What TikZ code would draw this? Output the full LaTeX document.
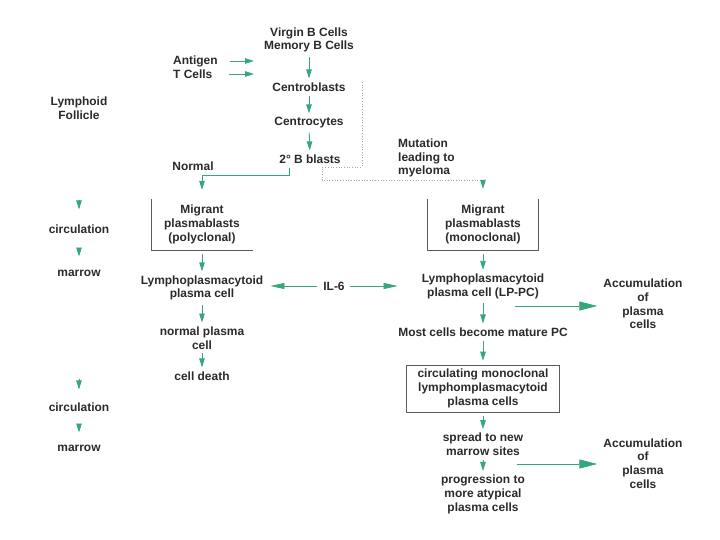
\documentclass[tikz,border=0pt]{standalone}
\usepackage{fontspec}
\setmainfont{Liberation Sans}
\usetikzlibrary{arrows.meta}
\definecolor{mmgreen}{HTML}{35A77A}
\definecolor{mmtext}{HTML}{2A2A2A}
\definecolor{mmgray}{HTML}{5A5A5A}
\definecolor{mmdot}{HTML}{A8A8A8}

\begin{document}
\begin{tikzpicture}[x=1bp,y=-1bp,
 lbl/.style={text=mmtext,font=\fontsize{12}{13.8}\selectfont\bfseries,align=center,inner sep=0pt},
 arr/.style={-{Triangle[length=9bp,width=5.5bp]},draw=mmgreen,line width=0.8bp,
   shorten <=4bp,shorten >=4bp},
 longarr/.style={arr,-{Triangle[length=14bp,width=6bp]}},
 bigarr/.style={arr,-{Triangle[length=18bp,width=9bp]}},
 frame/.style={draw=mmgray,line width=0.7bp},
 dotline/.style={draw=mmdot,dotted,line width=0.7bp}]
\fill[white] (0,0) rectangle (720,540);
\useasboundingbox (0,0) rectangle (720,540);
\node[lbl] (virg) at (309,40) {Virgin B Cells\\Memory B Cells};
\node[lbl,anchor=west] (ag) at (173,61) {Antigen};
\node[lbl,anchor=west] (tc) at (173,74) {T Cells};
\coordinate (agend) at (254,61);
\coordinate (tcend) at (254,74);
\node[lbl] (cb) at (309,87) {Centroblasts};
\node[lbl] (cc) at (309,123) {Centrocytes};
\node[lbl] (bb) at (310,159) {2° B blasts};
\node[lbl] (lf) at (79,108) {Lymphoid\\Follicle};
\node[lbl] (nrm) at (193,166) {Normal};
\node[lbl,anchor=west,align=left] (mut) at (398,158) {Mutation\\leading to\\myeloma};
\node[lbl,minimum width=101bp,minimum height=51bp] (poly) at (202,224.5) {Migrant\\plasmablasts\\(polyclonal)};
\node[lbl,minimum width=110bp,minimum height=51bp] (mono) at (483,224.5) {Migrant\\plasmablasts\\(monoclonal)};
\draw[frame] (poly.north west) -- (poly.south west) -- (poly.south east);
\draw[frame] (mono.north west) -- (mono.south west) -- (mono.south east) -- (mono.north east);
\node[lbl] (ci1) at (79,229) {circulation};
\node[lbl] (mw1) at (79,273) {marrow};
\node[lbl] (ci2) at (79,407) {circulation};
\node[lbl] (mw2) at (79,448) {marrow};
\coordinate (ci1top) at (79,200);
\coordinate (ci2top) at (79,379);
\node[lbl] (lp) at (202,288) {Lymphoplasmacytoid\\plasma cell};
\node[lbl] (npc) at (202,338) {normal plasma\\cell};
\node[lbl] (cd) at (202,376) {cell death};
\node[lbl] (il) at (334,286) {IL-6};
\node[lbl] (lppc) at (483,286.5) {Lymphoplasmacytoid\\plasma cell (LP-PC)};
\node[lbl] (most) at (483,332) {Most cells become mature PC};
\node[lbl,draw=mmgray,line width=0.7bp,minimum width=153bp,minimum height=47bp] (circ) at (483,388.5) {circulating monoclonal\\lymphomplasmacytoid\\plasma cells};
\node[lbl] (spr) at (483,444.5) {spread to new\\marrow sites};
\node[lbl] (prog) at (483,494.5) {progression to\\more atypical\\plasma cells};
\node[lbl] (acc1) at (643,304) {Accumulation\\of\\plasma\\cells};
\node[lbl] (acc2) at (643,463.5) {Accumulation\\of\\plasma\\cells};
\coordinate (a1start) at (515,306);
\coordinate (a2start) at (517,464);
\coordinate (dtop) at (362,82);
\coordinate (dturn) at (322,167);
\coordinate (dend) at (483,180);
\draw[arr,shorten <=12bp,shorten >=0pt] (ag.east) -- (agend);
\draw[arr,shorten <=16bp,shorten >=0pt] (tc.east) -- (tcend);
\draw[arr] (virg) -- (cb);
\draw[arr] (cb) -- (cc);
\draw[arr] (cc) -- (bb);
\draw[arr,shorten >=0pt] ([xshift=-21bp]bb.south) -- ++(0,12) -| ([yshift=9bp]poly.north);
\draw[dotline] (dtop) |- (dturn) |- (dend);
\draw[arr,shorten <=0pt,shorten >=0pt] (dend) -- ([yshift=10bp]mono.north);
\draw[arr] (poly) -- (lp);
\draw[arr] (lp) -- (npc);
\draw[arr] (npc) -- (cd);
\draw[arr] (mono) -- (lppc);
\draw[arr] (lppc) -- (most);
\draw[arr] (most) -- (circ);
\draw[arr] (circ) -- (spr);
\draw[arr] (spr) -- (prog);
\draw[arr,shorten <=0pt,shorten >=15bp] (ci1top) -- (ci1);
\draw[arr,shorten <=16bp,shorten >=13bp] (ci1) -- (mw1);
\draw[arr,shorten <=0pt,shorten >=13bp] (ci2top) -- (ci2);
\draw[arr,shorten <=15bp,shorten >=12bp] (ci2) -- (mw2);
\draw[longarr,shorten <=6bp,shorten >=7bp] (il.west) -- (lp.east |- il.west);
\draw[longarr,shorten <=5bp,shorten >=24bp] (il.east) -- (lppc.west |- il.east);
\draw[bigarr,shorten <=0pt,shorten >=6bp] (a1start) -- (acc1.west |- a1start);
\draw[bigarr,shorten <=0pt,shorten >=6bp] (a2start) -- (acc2.west |- a2start);
\end{tikzpicture}
\end{document}
